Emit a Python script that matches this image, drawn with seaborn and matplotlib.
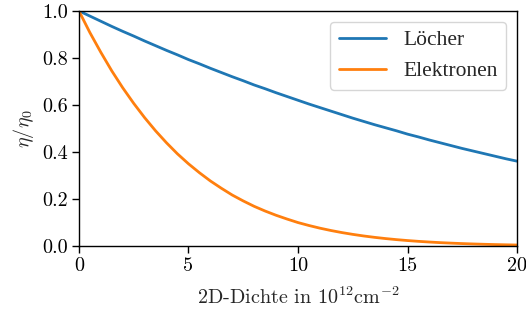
import matplotlib
matplotlib.use("Agg")
import matplotlib.pyplot as plt
import seaborn as sns
import pandas as pd

density = [i / 2 for i in range(0, 41)]
loecher = [1.000, 0.978, 0.956, 0.934, 0.913, 0.893, 0.872, 0.852, 0.832, 0.813,
           0.793, 0.775, 0.756, 0.738, 0.720, 0.703, 0.685, 0.669, 0.652, 0.636,
           0.620, 0.604, 0.589, 0.574, 0.559, 0.544, 0.530, 0.516, 0.503, 0.490,
           0.476, 0.464, 0.451, 0.439, 0.427, 0.415, 0.404, 0.393, 0.382, 0.371, 0.361]
elektronen = [1.000, 0.908, 0.824, 0.745, 0.673, 0.607, 0.546, 0.490, 0.439, 0.392,
              0.350, 0.312, 0.277, 0.246, 0.217, 0.192, 0.169, 0.149, 0.131, 0.115,
              0.100, 0.0875, 0.0762, 0.0663, 0.0575, 0.0498, 0.0430, 0.0371, 0.0319, 0.0274,
              0.0235, 0.0201, 0.0172, 0.0146, 0.0125, 0.0106, 0.0090, 0.0076, 0.0064, 0.0054, 0.0045]
series_names = ["Löcher", "Elektronen"]
xticks = [0, 5, 10, 15, 20]
yticks = [0.0, 0.2, 0.4, 0.6, 0.8, 1.0]

df = pd.DataFrame({
    "x": density * 2,
    "y": loecher + elektronen,
    "s": [series_names[0]] * len(density) + [series_names[1]] * len(density),
})

sns.set_style("ticks")
plt.rcParams["font.family"] = ["cmr10", "Liberation Serif"]
plt.rcParams["mathtext.fontset"] = "cm"
plt.rcParams["axes.formatter.use_mathtext"] = True
plt.rcParams["axes.unicode_minus"] = False

fig = plt.figure(figsize=(5.26, 3.2), dpi=100)
ax = fig.add_axes([0.150, 0.231, 0.833, 0.735])
sns.lineplot(data=df, x="x", y="y", hue="s", palette=["#1f77b4", "#ff7f0e"],
             linewidth=2, ax=ax)
ax.set_xlim(0, 20)
ax.set_ylim(0, 1)
ax.set_xticks(xticks)
ax.set_yticks(yticks)
ax.set_xticklabels([str(t) for t in xticks])
ax.set_yticklabels([f"{t:.1f}" for t in yticks])
for sp in ax.spines.values():
    sp.set_visible(True)
    sp.set_color("black")
    sp.set_linewidth(1.0)
ax.tick_params(labelsize=14.5, colors="black", length=5, width=1, pad=3)
ax.set_xlabel("2D-Dichte in $10^{12}$cm$^{-2}$", fontsize=14.5, labelpad=8)
ax.set_ylabel(r"$\eta/\eta_0$", fontsize=14.5)
leg = ax.legend(loc="upper right", prop={"family": "Liberation Serif", "size": 15.5},
                frameon=True, fancybox=True, framealpha=0.8, edgecolor="#cccccc",
                handlelength=2.2)
fig.savefig("out.png", dpi=100)
